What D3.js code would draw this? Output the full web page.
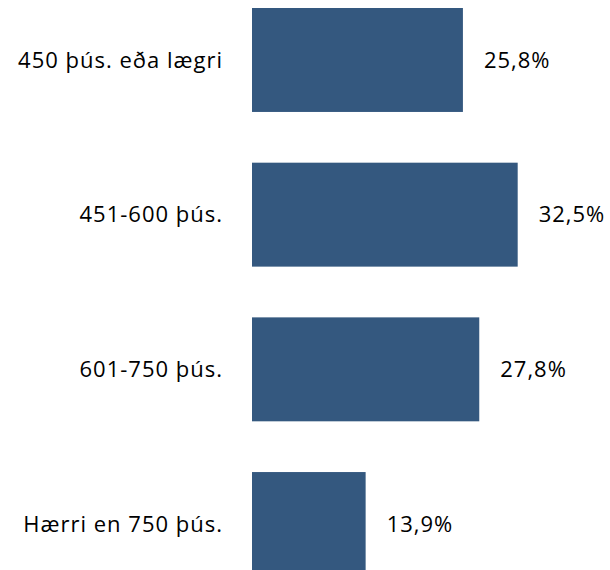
<!DOCTYPE html>
<html>
<head>
<meta charset="utf-8">
<script src="https://cdn.jsdelivr.net/npm/d3@7"></script>
<style>
  body { margin: 0; background: #fff; }
  text { font-family: 'Open Sans', sans-serif; font-size: 22px; fill: #000; letter-spacing: 1px; }
</style>
</head>
<body>
<svg id="chart"></svg>
<script>
// data
let categories = ['450 þús. eða lægri', '451-600 þús.', '601-750 þús.', 'Hærri en 750 þús.'];
let values = [25.8, 32.5, 27.8, 13.9];

// sizes
let outerWidth = 610;
let outerHeight = 570;
let barLeft = 252;

let xScale = d3.scaleLinear()
    .domain([0, 40])
    .range([barLeft, barLeft + 327]);

let yScale = d3.scaleBand()
    .domain(categories)
    .range([8, 576])
    .paddingInner(0.328)
    .paddingOuter(0);

let svg = d3.select('#chart')
    .attr('width', outerWidth)
    .attr('height', outerHeight);

let rows = categories.map((c, i) => ({ cat: c, val: values[i] }));

svg.selectAll('rect')
    .data(rows)
    .enter()
    .append('rect')
    .attr('x', xScale(0))
    .attr('y', d => yScale(d.cat))
    .attr('width', d => xScale(d.val) - xScale(0))
    .attr('height', yScale.bandwidth())
    .style('fill', '#34587f');

// category labels, right aligned
svg.selectAll('.cat-label')
    .data(rows)
    .enter()
    .append('text')
    .attr('class', 'cat-label')
    .attr('x', barLeft - 29)
    .attr('y', d => yScale(d.cat) + yScale.bandwidth() / 2)
    .attr('dy', '0.35em')
    .style('text-anchor', 'end')
    .text(d => d.cat);

// value labels
svg.selectAll('.val-label')
    .data(rows)
    .enter()
    .append('text')
    .attr('class', 'val-label')
    .attr('x', d => xScale(d.val) + 21)
    .attr('y', d => yScale(d.cat) + yScale.bandwidth() / 2)
    .attr('dy', '0.35em')
    .text(d => d.val.toFixed(1).replace('.', ',') + '%');
</script>
</body>
</html>
